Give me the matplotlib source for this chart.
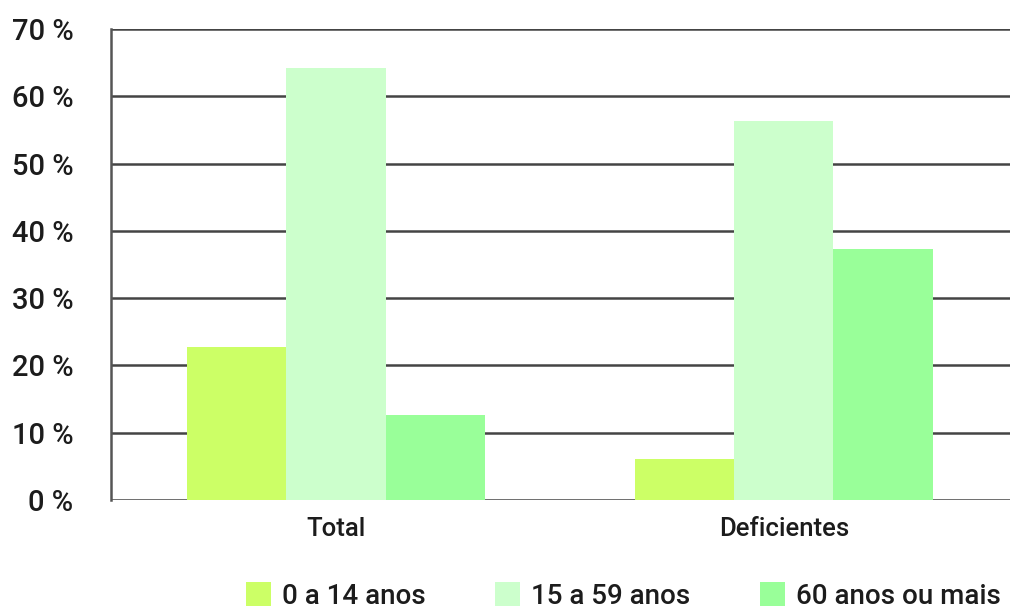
import numpy as np
import matplotlib
matplotlib.use("Agg")
import matplotlib.pyplot as plt
from matplotlib.patches import Patch

# Age distribution (%) for the total population and people with disabilities
categories = ["Total", "Deficientes"]
age_groups = ["0 a 14 anos", "15 a 59 anos", "60 anos ou mais"]
values_0_14 = [22.8, 6.1]
values_15_59 = [64.2, 56.3]
values_60_plus = [12.6, 37.3]
y_ticks = [0, 10, 20, 30, 40, 50, 60, 70]
y_tick_labels = [f"{t} %" for t in y_ticks]

colors = ["#ccff66", "#ccffcc", "#99ff99"]
fonts = ["Roboto", "DejaVu Sans"]
text_color = "#1c1c1c"

fig = plt.figure(figsize=(10.13, 6.11), dpi=100)
ax = fig.add_axes([0.1096, 0.1817, 0.8874, 0.7709])

x = np.arange(len(categories))
width = 0.222
series = [values_0_14, values_15_59, values_60_plus]
for i, (vals, col) in enumerate(zip(series, colors)):
    ax.bar(x + (i - 1) * width, vals, width=width, color=col, zorder=3,
           edgecolor="none")

ax.set_xlim(-0.502, 1.505)
ax.set_ylim(0, 70)
ax.set_yticks(y_ticks)
ax.set_yticklabels(y_tick_labels, family=fonts, fontsize=21, color=text_color,
                   fontweight="medium")
ax.set_xticks(x)
ax.set_xticklabels(categories, family=fonts, fontsize=18.5, color=text_color,
                   fontweight="medium")
ax.tick_params(axis="both", length=0)
ax.tick_params(axis="y", pad=27)
ax.tick_params(axis="x", pad=12)

ax.yaxis.grid(True, color="#444444", linewidth=1.8, zorder=1)
ax.set_axisbelow(True)
for side in ["top", "right", "bottom"]:
    ax.spines[side].set_visible(False)
ax.spines["left"].set_color("#555555")
ax.spines["left"].set_linewidth(1.8)
ax.spines["left"].set_zorder(2)

handles = [Patch(facecolor=c, edgecolor="none") for c in colors]
fig.legend(handles, age_groups, loc="center left",
           bbox_to_anchor=(246 / 1013, 1 - 596 / 611),
           ncol=3, frameon=False,
           prop={"family": fonts, "size": 20, "weight": "medium"},
           handlelength=0.9, handleheight=0.9, handletextpad=0.4,
           columnspacing=2.5, borderpad=0, borderaxespad=0,
           labelcolor=text_color)

fig.savefig("out.png", dpi=100, facecolor="white")
